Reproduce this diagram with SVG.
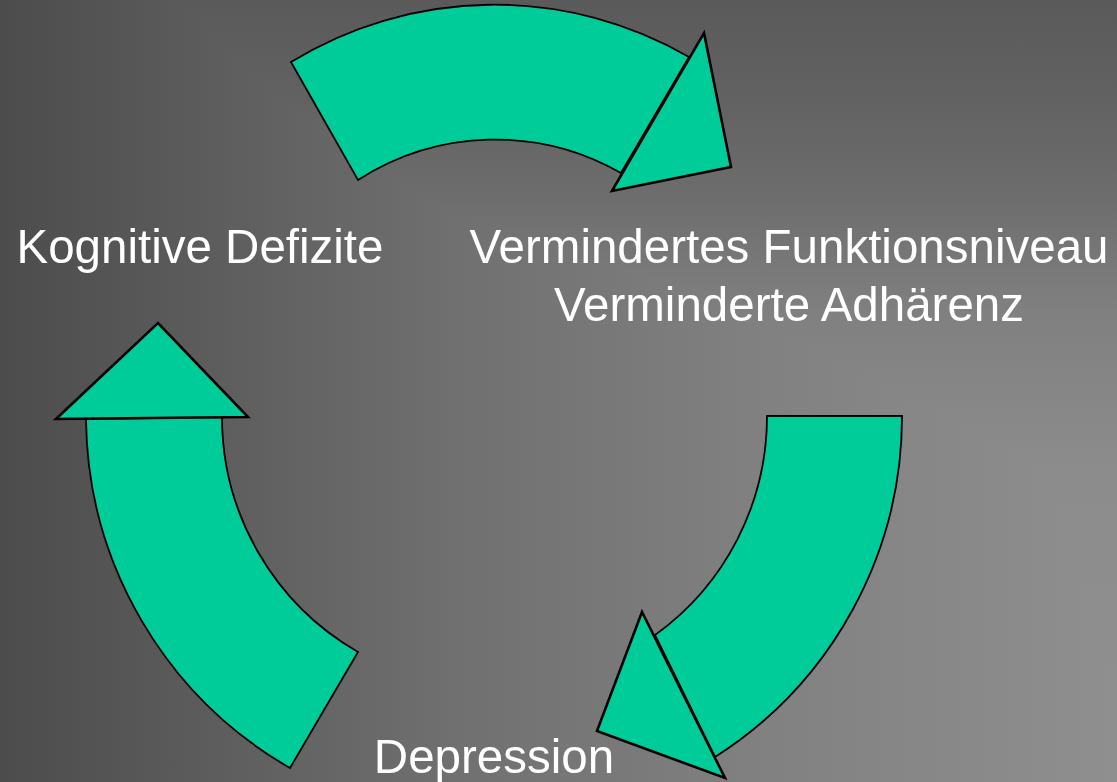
<svg xmlns="http://www.w3.org/2000/svg" width="1117" height="782" viewBox="0 0 1117 782">
<defs>
<linearGradient id="bgx" x1="0" y1="0" x2="1117" y2="0" gradientUnits="userSpaceOnUse">
<stop offset="0" stop-color="#4c4c4c"/>
<stop offset="0.41" stop-color="#707070"/>
<stop offset="0.67" stop-color="#808080"/>
<stop offset="1" stop-color="#8f8f8f"/>
</linearGradient>
<linearGradient id="bgy" x1="0" y1="0" x2="0" y2="782" gradientUnits="userSpaceOnUse">
<stop offset="0" stop-color="#5a5a5a"/>
<stop offset="0.13" stop-color="#626262"/>
<stop offset="0.26" stop-color="#6e6e6e"/>
<stop offset="0.4" stop-color="#808080"/>
<stop offset="0.6" stop-color="#8c8c8c"/>
<stop offset="1" stop-color="#909090"/>
</linearGradient>
<style>
.shaft{fill:#00cc99;stroke:#000;stroke-width:1.8;stroke-linejoin:miter}
.head{fill:#00cc99;stroke:#000;stroke-width:2.6;stroke-linejoin:miter}
.label{fill:#fff;font-family:"Liberation Sans",Arial,sans-serif;font-size:47.5px;text-anchor:middle}
</style>
</defs>
<g id="background">
<rect width="1117" height="782" fill="url(#bgx)"/>
<rect width="1117" height="782" fill="url(#bgy)" style="mix-blend-mode:darken"/>
</g>
<g id="connectors">
<g id="arrow-top">
<path class="shaft" d="M291,62 A389,389 0 0 1 689,57 L621,173 A253,253 0 0 0 358,180 Z"/>
<polygon class="head" points="704,33 731,167 612,191"/>
</g>
<g id="arrow-right">
<path class="shaft" d="M767,416 L902,416 A404,404 0 0 1 715,757 L655,635 A269,269 0 0 0 767,416 Z"/>
<polygon class="head" points="642,612 597,731 725,778"/>
</g>
<g id="arrow-left">
<path class="shaft" d="M358,652 L290,768 A407,407 0 0 1 86,419 L222,417 A271,271 0 0 0 358,652 Z"/>
<polygon class="head" points="56,419 158,323 248,417"/>
</g>
</g>
<g id="node-kognitive">
<text class="label" x="200" y="263">Kognitive Defizite</text>
</g>
<g id="node-funktion">
<text class="label" x="789" y="263">Vermindertes Funktionsniveau</text>
<text class="label" x="789" y="321">Verminderte Adhärenz</text>
</g>
<g id="node-depression">
<text class="label" x="494" y="773">Depression</text>
</g>
</svg>
